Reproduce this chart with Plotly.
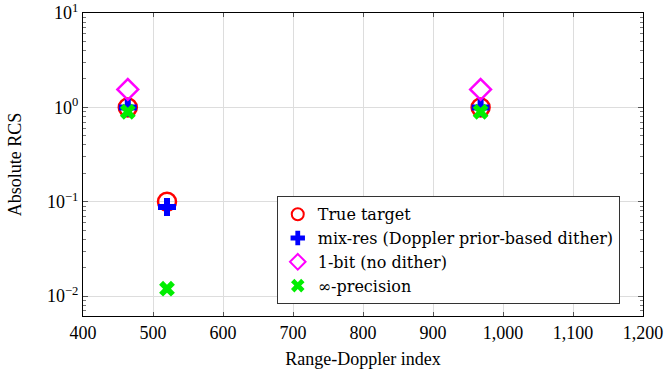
import plotly.graph_objects as go

idx = [464, 520, 968]
true_target = [1.0, 0.1, 1.0]
mix_res = [1.0, 0.088, 1.0]
one_bit_x = [464, 968]
one_bit = [1.55, 1.55]
inf_prec = [0.9, 0.012, 0.9]

FONT = "'Liberation Serif', 'DejaVu Serif', serif"
LFONT = "'DejaVu Serif', serif"
fig = go.Figure()
fig.add_trace(go.Scatter(x=idx, y=true_target, mode="markers", name="True target",
                         marker=dict(symbol="circle-open", size=18, color="#ff0000",
                                     line=dict(width=2.5, color="#ff0000"))))
fig.add_trace(go.Scatter(x=idx, y=mix_res, mode="markers", name="mix-res (Doppler prior-based dither)",
                         marker=dict(symbol="cross", size=15, color="#0000ff", line=dict(width=0))))
fig.add_trace(go.Scatter(x=one_bit_x, y=one_bit, mode="markers", name="1-bit (no dither)",
                         marker=dict(symbol="diamond-open", size=16, color="#ff00ff",
                                     line=dict(width=2.5, color="#ff00ff"))))
fig.add_trace(go.Scatter(x=idx, y=inf_prec, mode="markers", name="∞-precision",
                         marker=dict(symbol="x", size=14, color="#00ee00", line=dict(width=0))))

fig.update_layout(
    width=667, height=378,
    margin=dict(l=83, r=24, t=13, b=62, autoexpand=False),
    paper_bgcolor="white", plot_bgcolor="white",
    font=dict(family=FONT, size=18, color="black"),
    showlegend=True,
    legend=dict(x=0.346, y=0.395, xanchor="left", yanchor="top",
                bordercolor="#333", borderwidth=1, bgcolor="white",
                font=dict(family=LFONT, size=16), itemwidth=30,
                tracegroupgap=0, itemsizing="constant"),
    xaxis=dict(range=[400, 1200], dtick=100, tickformat=",", showgrid=True,
               gridcolor="#dddddd", gridwidth=1, zeroline=False, automargin=False,
               showline=True, linecolor="black", linewidth=1, mirror="ticks",
               ticks="inside", ticklen=4, tickcolor="#555",
               title=dict(text="Range-Doppler index", font=dict(family=FONT, size=18), standoff=10),
               tickfont=dict(family=FONT, size=18)),
    yaxis=dict(type="log", range=[-2.21, 1.0], automargin=False,
               tickvals=[0.01, 0.1, 1, 10],
               ticktext=["10<sup>−2</sup>", "10<sup>−1</sup>", "10<sup>0</sup>", "10<sup>1</sup>"],
               showgrid=True, gridcolor="#dddddd", gridwidth=1, zeroline=False,
               showline=True, linecolor="black", linewidth=1, mirror="ticks",
               ticks="inside", ticklen=5, tickcolor="#555",
               minor=dict(ticks="inside", ticklen=3, tickcolor="#777", showgrid=False, dtick="D1"),
               title=dict(text="Absolute RCS", font=dict(family=FONT, size=18), standoff=20),
               tickfont=dict(family=FONT, size=18)),
)

fig.write_html("out.html")
